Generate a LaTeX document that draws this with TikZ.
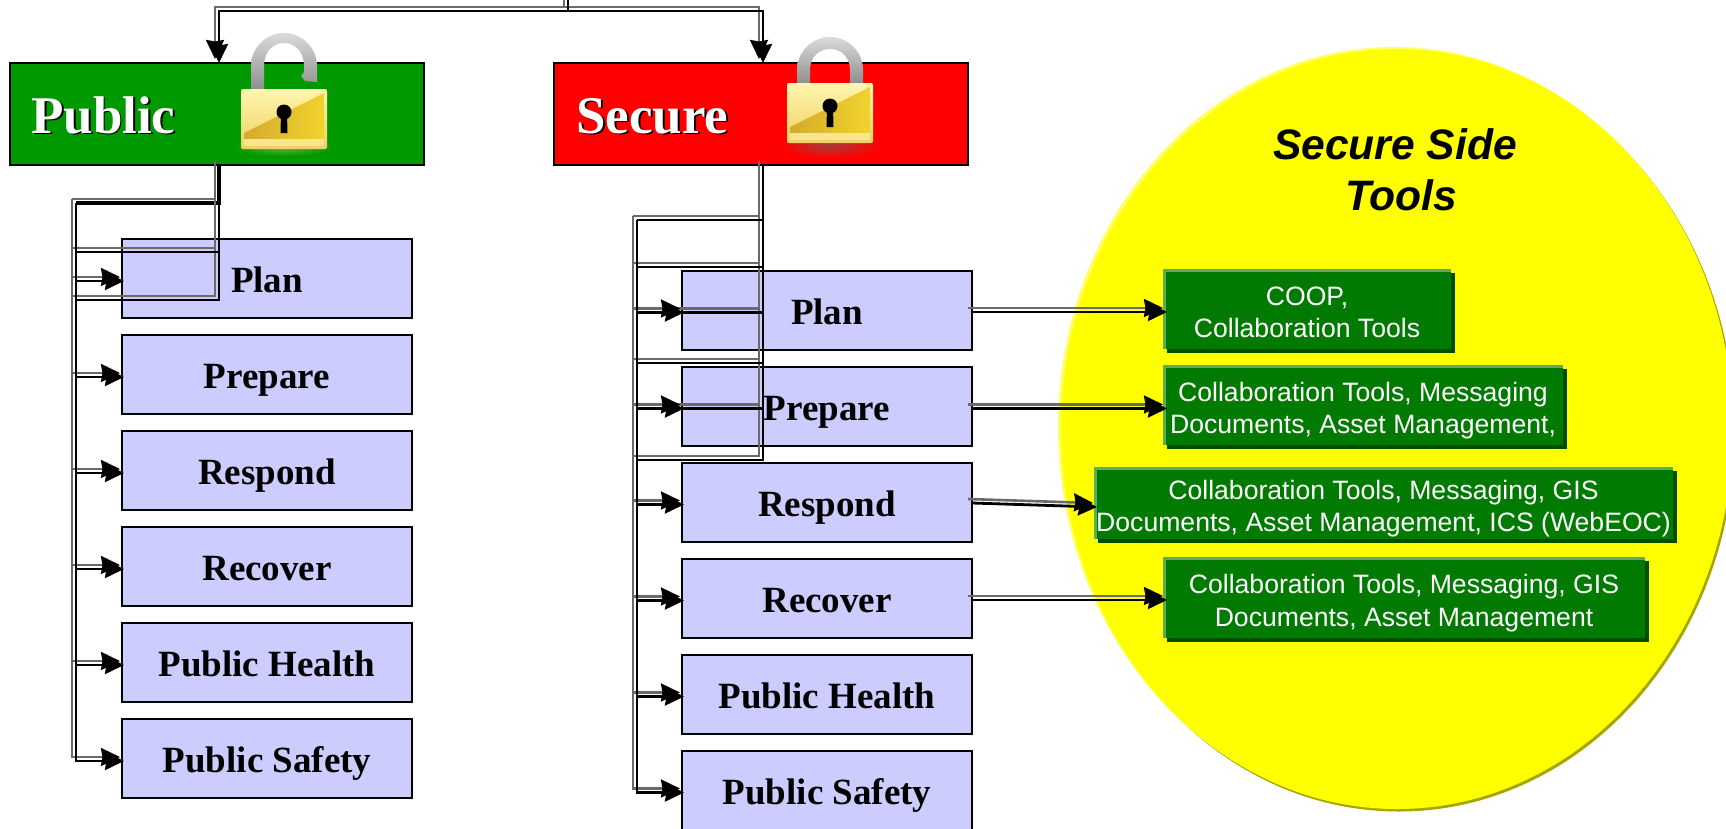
\documentclass[tikz,border=0pt]{standalone}
\usepackage{fontspec}
\setmainfont{Liberation Serif}
\newfontfamily\toolfont{Liberation Sans}
\usetikzlibrary{arrows.meta,shadows}
\definecolor{boxblue}{HTML}{CCCCFF}
\definecolor{pubgreen}{HTML}{009900}
\definecolor{secred}{HTML}{FF0000}
\definecolor{ovalyel}{HTML}{FFFF00}
\definecolor{toolgreen}{HTML}{007A00}
\definecolor{toollight}{HTML}{5CAD5C}
\definecolor{tooldark}{HTML}{004D00}
\definecolor{olive}{HTML}{A6A600}
\definecolor{paleyel}{HTML}{FFFF66}
\definecolor{linegray}{HTML}{6A6A6A}
\definecolor{lockglowA}{HTML}{6FAE3A}
\definecolor{lockglowB}{HTML}{A83C3C}
\newcommand\tstrut{\rule[-5.75pt]{0pt}{36.9pt}}
\newcommand\bstrut{\rule[-5.75pt]{0pt}{32.5pt}}
\newcommand\shadowtext[1]{\makebox[0pt][l]{\kern1.8pt\raisebox{-1.8pt}{\color{black}#1}}#1}
% padlock body drawn with its top-left corner at the scope origin
\newcommand\lockbody{%
  \shade[rounded corners=2pt,top color=lockA,bottom color=lockB] (0,0) rectangle (86,60);
  \shade[left color=lockC,right color=lockD] (3,50) -- (3,44) -- (83,4) -- (83,50) -- cycle;
  \fill[lockE] (3,50) rectangle (83,57);
  \fill[black] (43,23) circle[radius=7.5pt];
  \fill[black] (40,24) -- (46,24) -- (46.5,44) -- (39.5,44) -- cycle;
}
\definecolor{lockA}{HTML}{FFF6B0}
\definecolor{lockB}{HTML}{EFD060}
\definecolor{lockC}{HTML}{D5AA2C}
\definecolor{lockD}{HTML}{F0D32E}
\definecolor{lockE}{HTML}{F8E68C}
\definecolor{shackA}{HTML}{DADADA}
\definecolor{shackB}{HTML}{8E8E8E}
\tikzset{
  x=1pt,y=-1pt,
  itembox/.style={draw=black,line width=2pt,fill=boxblue,minimum width=290pt,minimum height=79pt,
    inner sep=0pt,outer sep=0pt,text height=32pt,text depth=5pt,
    font=\fontsize{37}{40}\selectfont\bfseries},
  hdrbox/.style={draw=black,line width=2pt,minimum width=414pt,minimum height=102pt,inner sep=0pt,outer sep=0pt},
  hdrtext/.style={anchor=base west,inner sep=0pt,text=white,font=\fontsize{53}{56}\selectfont\bfseries},
  toolbox/.style={fill=toollight,inner sep=0pt,outer sep=0pt,align=center,text=white,
    font=\toolfont\fontsize{26.6}{32.5}\selectfont,
    general shadow={shadow xshift=4pt,shadow yshift=-4pt,fill=tooldark},
    path picture={\fill[toolgreen] ([xshift=3pt,yshift=-3pt]path picture bounding box.north west)
      rectangle (path picture bounding box.south east);}},
  graytip/.style={-},
  dbl/.style={draw=black,line width=2.8pt,line join=miter,
    preaction={graytip,draw=linegray,line width=2.6pt,transform canvas={shift={(-4pt,4pt)}}}},
  dbla/.style={graytip/.style={-{Stealth[length=19pt,width=18pt,inset=1.5pt,color=black]}},dbl,
    -{Stealth[length=19pt,width=18pt,inset=1.5pt]}},
}
\begin{document}
\begin{tikzpicture}
\useasboundingbox (0,0) rectangle (1726,828);
\clip (0,0) rectangle (1726,828);
% yellow ellipse
\fill[olive] (1399,431.5) ellipse[x radius=336,y radius=380];
\fill[paleyel] (1394,427) ellipse[x radius=336,y radius=380];
\fill[ovalyel] (1397,429) ellipse[x radius=336,y radius=380];
\node[align=center,inner sep=0pt,font=\toolfont\fontsize{42.6}{51}\selectfont\bfseries\itshape] (title) at (1395,169.5)
  {Secure Side\\\hspace*{12pt}Tools};
% tool boxes
\node[toolbox,minimum width=288pt,minimum height=80pt] (coop) at (1307,309) {\tstrut COOP,\\\bstrut Collaboration Tools};
\node[toolbox,minimum width=400pt,minimum height=80pt] (tprep) at (1363,405) {\tstrut Collaboration Tools, Messaging\\\bstrut Documents, Asset Management,};
\node[toolbox,minimum width=579pt,minimum height=72pt] (tresp) at (1383.5,503) {\tstrut Collaboration Tools, Messaging, GIS\\\bstrut Documents, Asset Management, ICS (WebEOC)};
\node[toolbox,minimum width=482pt,minimum height=81pt] (trec) at (1404,597.5) {\tstrut Collaboration Tools, Messaging, GIS\\\bstrut Documents, Asset Management};
% headers
\node[hdrbox,fill=pubgreen] (pub) at (216.5,114) {};
\node[hdrbox,fill=secred] (sec) at (760.5,114) {};
\node[hdrtext] (publab) at (31,133) {\shadowtext{Public}};
\node[hdrtext] (seclab) at (576,133) {\shadowtext{Secure}};
% open padlock
\begin{scope}[shift={(241,89)}]
  \shade[inner color=lockglowA,outer color=pubgreen,draw=none] (43,58) ellipse[x radius=50,y radius=9];
  \shade[top color=shackA,bottom color=shackB] (10,1) -- (10,-23) .. controls (10,-41) and (25,-56) .. (43,-56)
     .. controls (61,-56) and (76,-41) .. (76,-23) -- (76,-7) -- (64,-8) -- (60,-13) -- (63,-17) -- (63,-23)
     .. controls (63,-36) and (55,-46) .. (43,-46) .. controls (31,-46) and (23,-36) .. (23,-23) -- (23,1) -- cycle;
  \lockbody
\end{scope}
% closed padlock
\begin{scope}[shift={(787,83)}]
  \shade[inner color=lockglowB,outer color=secred,draw=none] (43,62) ellipse[x radius=52,y radius=13];
  \shade[top color=shackA,bottom color=shackB] (10,1) -- (10,-13) .. controls (10,-31) and (25,-46) .. (43,-46)
     .. controls (61,-46) and (76,-31) .. (76,-13) -- (76,1) -- (63,1) -- (63,-13)
     .. controls (63,-25) and (55,-34) .. (43,-34) .. controls (31,-34) and (23,-25) .. (23,-13) -- (23,1) -- cycle;
  \lockbody
\end{scope}
% item boxes, public side
\node[itembox] (lplan) at (267,278.5) {Plan};
\node[itembox] (lprep) at (267,374.5) {Prepare};
\node[itembox] (lresp) at (267,470.5) {Respond};
\node[itembox] (lrec)  at (267,566.5) {Recover};
\node[itembox] (lhea)  at (267,662.5) {Public Health};
\node[itembox] (lsaf)  at (267,758.5) {Public Safety};
% item boxes, secure side
\node[itembox] (rplan) at (827,310.5) {Plan};
\node[itembox] (rprep) at (827,406.5) {Prepare};
\node[itembox] (rresp) at (827,502.5) {Respond};
\node[itembox] (rrec)  at (827,598.5) {Recover};
\node[itembox] (rhea)  at (827,694.5) {Public Health};
\node[itembox] (rsaf)  at (827,790.5) {Public Safety};
% junction points
\coordinate (topj) at (568,-6);
\coordinate (topk) at (568,11);
\coordinate (lk) at (219,203);
\coordinate (lb) at (76,203);
\coordinate (lm1) at (219,252);
\coordinate (lm1b) at (76,252);
\coordinate (lm2) at (219,300);
\coordinate (lm2b) at (76,300);
\coordinate (rb) at (637,220);
\coordinate (rk0) at (763,220);
\coordinate (rk1) at (763,267);
\coordinate (rk1b) at (637,267);
\coordinate (rk2) at (763,312.5);
\coordinate (rk2b) at (637,312.5);
\coordinate (rk3) at (763,363);
\coordinate (rk3b) at (637,363);
\coordinate (rk4) at (763,408.5);
\coordinate (rk4b) at (637,408.5);
\coordinate (rk5) at (763,460);
\coordinate (rk5b) at (637,460);
% top connectors
\draw[dbla] (topj) -- (topk) -| ([xshift=2.5pt]pub.north);
\draw[dbla] (topj) -- (topk) -| ([xshift=2.5pt]sec.north);
% public tree
\draw[dbl,line width=3.6pt] ([xshift=2.5pt]pub.south) -- (lk) -- (lb);
\draw[dbl] (lk) -- (lm2) -- (lm2b);
\draw[dbl] (lm1) -- (lm1b);
\draw[dbla] (lb) |- ([xshift=2pt,yshift=-2.5pt]lplan.west);
\draw[dbla] (lb) |- ([xshift=2pt,yshift=-2.5pt]lprep.west);
\draw[dbla] (lb) |- ([xshift=2pt,yshift=-2.5pt]lresp.west);
\draw[dbla] (lb) |- ([xshift=2pt,yshift=-2.5pt]lrec.west);
\draw[dbla] (lb) |- ([xshift=2pt,yshift=-2.5pt]lhea.west);
\draw[dbla] (lb) |- ([xshift=2pt,yshift=-2.5pt]lsaf.west);
% secure tree
\draw[dbl] ([xshift=2.5pt]sec.south) -- (rk5) -- (rk5b);
\draw[dbl] (rk0) -- (rb);
\draw[dbl] (rk1) -- (rk1b);
\draw[dbl] (rk2) -- (rk2b);
\draw[dbl] (rk3) -- (rk3b);
\draw[dbl] (rk4) -- (rk4b);
\draw[dbla] (rb) |- ([xshift=2pt,yshift=-2pt]rplan.west);
\draw[dbla] (rb) |- ([xshift=2pt,yshift=-2pt]rprep.west);
\draw[dbla] (rb) |- ([xshift=2pt,yshift=-2pt]rresp.west);
\draw[dbla] (rb) |- ([xshift=2pt,yshift=-2pt]rrec.west);
\draw[dbla] (rb) |- ([xshift=2pt,yshift=-2pt]rhea.west);
\draw[dbla] (rb) |- ([xshift=2pt,yshift=-2pt]rsaf.west);
% links to the tools
\draw[dbla] ([yshift=-1.5pt]rplan.east) -- ([xshift=4pt,yshift=-3pt]coop.west);
\draw[dbla] ([yshift=-2pt]rprep.east) -- ([xshift=4pt,yshift=-3.5pt]tprep.west);
\draw[dbla] ([yshift=-.5pt]rresp.east) -- ([xshift=3pt,yshift=-4pt]tresp.west);
\draw[dbla] ([yshift=-1.5pt]rrec.east) -- ([xshift=4pt,yshift=-2.5pt]trec.west);
\end{tikzpicture}
\end{document}
